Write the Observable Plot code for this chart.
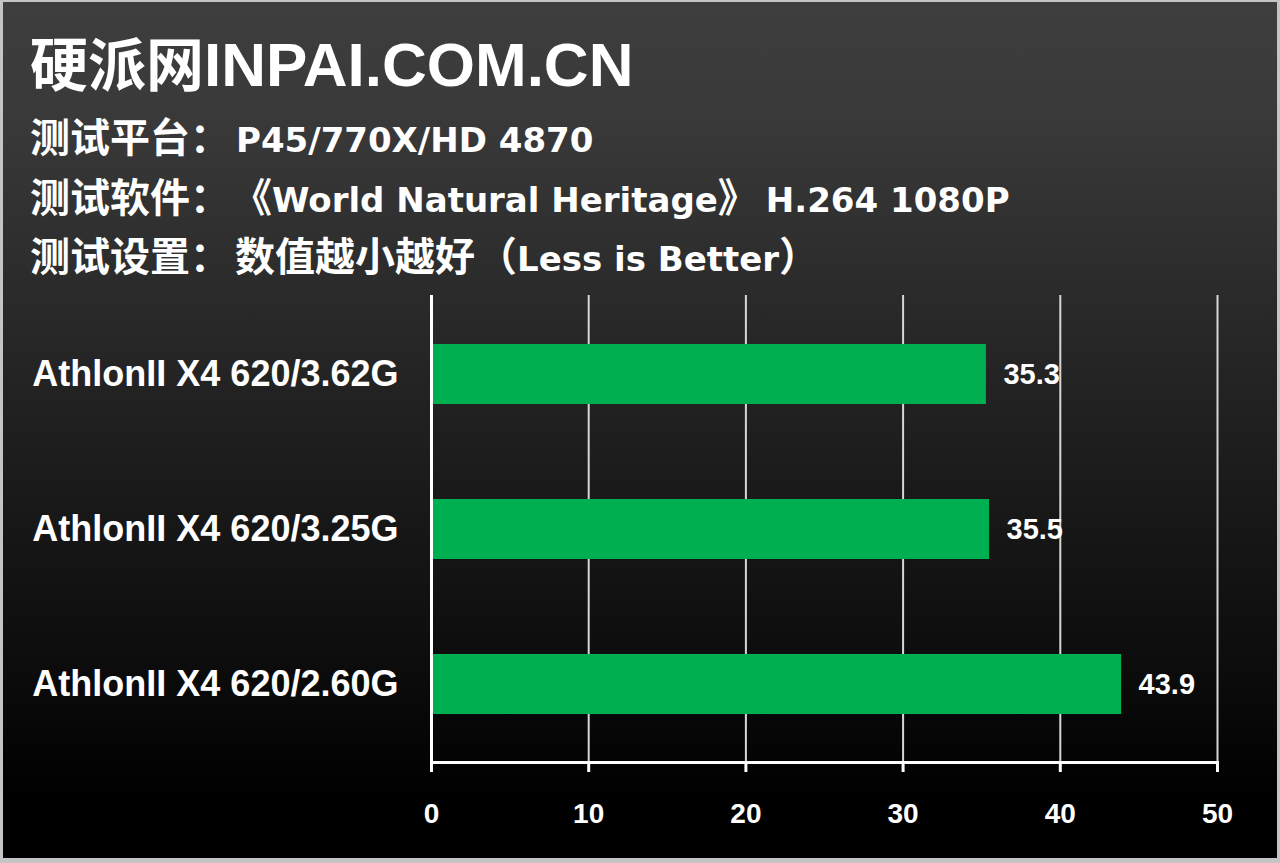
<!DOCTYPE html>
<html>
<head>
<meta charset="utf-8">
<script src="https://cdn.jsdelivr.net/npm/d3@7"></script>
<script src="https://cdn.jsdelivr.net/npm/@observablehq/plot@0.6"></script>
<style>
  html, body { margin: 0; padding: 0; background: #000; }
  #page {
    position: relative; width: 1280px; height: 863px; overflow: hidden;
    background: linear-gradient(to bottom, #3e3e3e 0px, #393939 120px, #2a2a2a 300px, #191919 500px, #0b0b0b 680px, #000 800px, #000 863px);
    color: #fff;
  }
  #frame {
    position: absolute; left: 0; top: 0; width: 1280px; height: 863px; box-sizing: border-box;
    border-style: solid; border-color: #c4c4c4; border-width: 2px 3px 5px 3px; pointer-events: none;
  }
  .line { position: absolute; left: 30px; white-space: nowrap; font-weight: bold; }
  #title { top: 26px; font-family: "Noto Sans CJK SC", sans-serif; font-size: 58px; line-height: 70px; }
  #title .l { font-family: "Liberation Sans", sans-serif; font-size: 62px; }
  .sub { font-family: "Noto Sans CJK SC", sans-serif; font-size: 40px; line-height: 48px; }
  .sub .l { font-family: "DejaVu Sans", sans-serif; font-size: 34px; }
  #chart { position: absolute; left: 0; top: 280px; }
</style>
</head>
<body>
<div id="page">
  <div id="title" class="line">硬派网<span class="l">INPAI.COM.CN</span></div>
  <div class="line sub" style="top:111px">测试平台：<span class="l" style="margin-left:6px">P45/770X/HD 4870</span></div>
  <div class="line sub" style="top:171px">测试软件：<span style="margin-left:22px">《</span><span class="l">World Natural Heritage</span>》<span class="l" style="margin-left:8px">H.264 1080P</span></div>
  <div class="line sub" style="top:230px">测试设置：<span style="margin-left:5px">数值越小越好</span><span style="margin-left:2px">（</span><span class="l">Less is Better</span>）</div>
  <div id="chart"></div>
  <div id="frame"></div>
</div>
<script>
const processors = ["AthlonII X4 620/3.62G", "AthlonII X4 620/3.25G", "AthlonII X4 620/2.60G"];
const seconds = [35.3, 35.5, 43.9];
const xTicks = [0, 10, 20, 30, 40, 50];

const data = processors.map((name, i) => ({name, value: seconds[i]}));

const chart = Plot.plot({
  width: 1280,
  height: 578,
  marginLeft: 431,
  marginRight: 63,
  marginTop: 15,
  marginBottom: 96,
  insetTop: 2,
  style: {background: "transparent", color: "white", fontFamily: "'Liberation Sans', Arial, sans-serif", fontWeight: "bold", overflow: "visible"},
  x: {domain: [0, 50], ticks: xTicks},
  y: {domain: processors, paddingInner: 0.612, paddingOuter: 0.306, align: 0.5},
  marks: [
    Plot.gridX(xTicks.slice(1), {stroke: "#d6d6d6", strokeOpacity: 1, strokeWidth: 2}),
    Plot.barX(data, {x: "value", y: "name", fill: "#00b050"}),
    Plot.text(data, {x: "value", y: "name", text: d => d.value.toFixed(1), dx: 17, textAnchor: "start", fill: "white", fontSize: 29, fontWeight: "bold"}),
    Plot.ruleX([0], {stroke: "white", strokeWidth: 3}),
    Plot.frame({anchor: "bottom", stroke: "white", strokeWidth: 3}),
    Plot.axisX(xTicks, {anchor: "bottom", tickSize: 10, tickPadding: 31, fontSize: 28, fontWeight: "bold", color: "white", strokeWidth: 3, strokeOpacity: 1, label: null}),
    Plot.axisY({anchor: "left", tickSize: 0, tickPadding: 33, fontSize: 36, fontWeight: "bold", color: "white", label: null})
  ]
});
document.getElementById("chart").appendChild(chart);
</script>
</body>
</html>
